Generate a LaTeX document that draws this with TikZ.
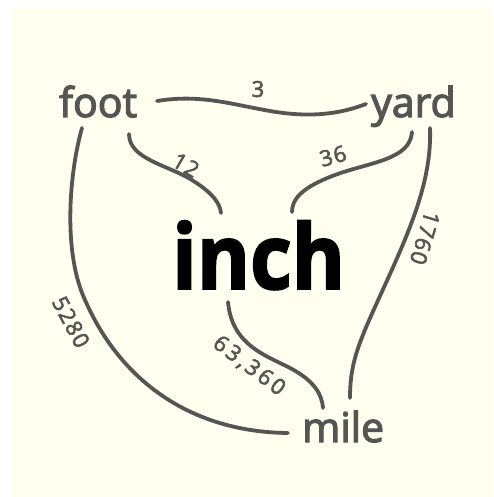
\documentclass[tikz,border=0pt]{standalone}
\usepackage{fontspec}
\setmainfont{Open Sans}
\newfontfamily\wordfont[FakeBold=3]{Open Sans}
\newfontfamily\numfont[FakeBold=2.5, LetterSpace=6]{Open Sans}
\newfontfamily\widenumfont[FakeBold=2.5, LetterSpace=14]{Open Sans}
\newfontfamily\bigfont[FakeBold=2, FakeStretch=0.9]{Open Sans Bold}
\definecolor{bg}{HTML}{FEFFEE}
\definecolor{ink}{HTML}{555555}
\tikzset{
  x=1pt, y=-1pt,
  word/.style={text=ink, font=\wordfont\fontsize{41}{41}\selectfont, anchor=base west, inner sep=0pt},
  link/.style={draw=ink, line width=3.8pt, line cap=round},
  num/.style={text=ink, font=\numfont\fontsize{22}{22}\selectfont, inner sep=0pt},
  widenum/.style={text=ink, font=\widenumfont\fontsize{22}{22}\selectfont, inner sep=0pt},
}
\begin{document}
\begin{tikzpicture}
\useasboundingbox (0,0) rectangle (493,497);
\fill[bg] (12,8) rectangle (493,497);
% nodes
\node[word] (foot) at (59,117) {foot};
\node[word] (yard) at (371,117) {yard};
\node[word] (mile) at (302,442) {mile};
\node[anchor=base west, inner sep=0pt, font=\bigfont\fontsize{90}{90}\selectfont] (inch) at (172,289) {inch};
% connector ends
\coordinate (fyA) at (157,101);
\coordinate (fyB) at (366,104);
\coordinate (fiA) at (129,134);
\coordinate (fiB) at (221,213);
\coordinate (yiA) at (412,132);
\coordinate (yiB) at (292,212);
\coordinate (fmA) at (82,128);
\coordinate (fmB) at (288,433);
\coordinate (ymA) at (430,128);
\coordinate (ymB) at (350,398);
\coordinate (imA) at (228,302);
\coordinate (imB) at (323,408);
% connectors
\draw[link] (fyA) .. controls (200,94) and (230,104) .. (270,111) .. controls (310,118) and (340,114) .. (fyB);
\draw[link] (fiA) .. controls (129,160) and (170,165) .. (195,182) .. controls (212,193) and (220,203) .. (fiB);
\draw[link] (yiA) .. controls (410,160) and (370,162) .. (335,175) .. controls (300,188) and (292,200) .. (yiB);
\draw[link] (fmA) .. controls (70,170) and (62,250) .. (85,300) .. controls (120,380) and (190,432) .. (fmB);
\draw[link] (ymA) .. controls (432,180) and (410,230) .. (385,285) .. controls (360,340) and (350,360) .. (ymB);
\draw[link] (imA) .. controls (232,345) and (265,355) .. (290,368) .. controls (315,381) and (322,395) .. (imB);
% labels
\node[num] (l3) at (258,89) {3};
\node[num, rotate=-30] (l12) at (186,165) {12};
\node[num, rotate=15] (l36) at (333,156) {36};
\node[num, rotate=-62] (l5280) at (71,322) {5280};
\node[num, rotate=-107] (l1760) at (425,238) {1760};
\node[widenum, rotate=-37] (l63) at (249,366) {63,360};
\end{tikzpicture}
\end{document}
